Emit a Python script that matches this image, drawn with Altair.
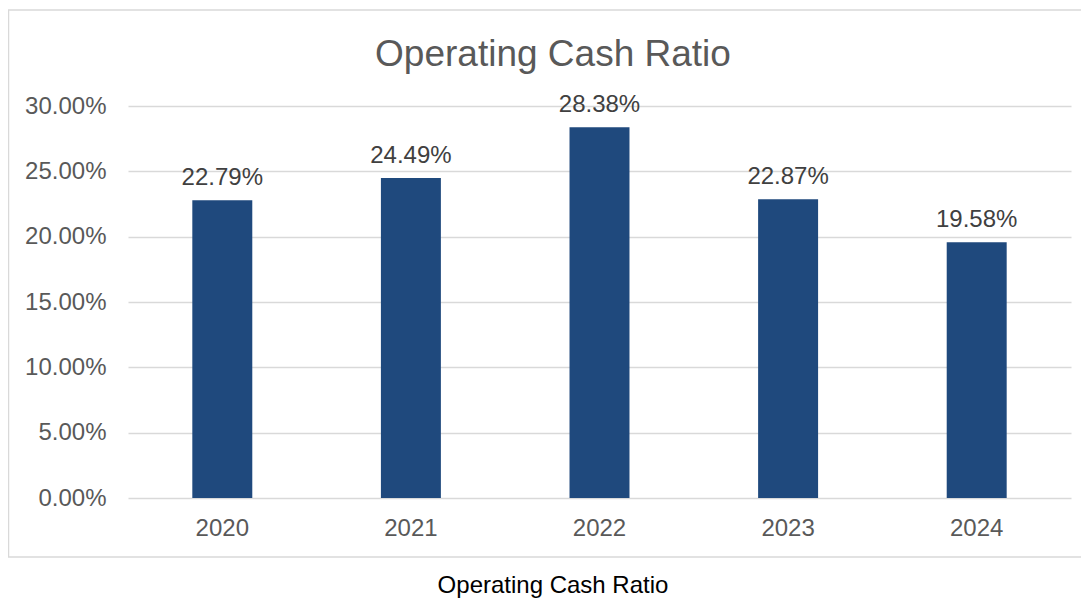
import altair as alt
import pandas as pd

years = ["2020", "2021", "2022", "2023", "2024"]
ratios = [0.2279, 0.2449, 0.2838, 0.2287, 0.1958]
title_text = "Operating Cash Ratio"
caption_text = "Operating Cash Ratio"

df = pd.DataFrame({"year": years, "ratio": ratios})

FONT = "Arial, Liberation Sans, sans-serif"
W, H = 943, 392

x_axis = alt.Axis(labelAngle=0, domain=False, ticks=False, labelPadding=18,
                  labelFontSize=24, labelColor="#595959", labelFont=FONT, grid=False)
x_enc = alt.X("year:N", sort=years, title=None,
              scale=alt.Scale(paddingInner=0.682, paddingOuter=0.341), axis=x_axis)
y_enc = alt.Y("ratio:Q", title=None,
              scale=alt.Scale(domain=[0, 0.30], nice=False),
              axis=alt.Axis(format=".2%", values=[0, 0.05, 0.10, 0.15, 0.20, 0.25, 0.30],
                            domain=False, ticks=False, labelPadding=22,
                            labelFontSize=24, labelColor="#595959", labelFont=FONT,
                            grid=True, gridColor="#d9d9d9", gridWidth=1.3))

base = alt.Chart(df)
bars = base.mark_bar(color="#1f497d").encode(x=x_enc, y=y_enc)
labels = base.mark_text(baseline="alphabetic", dy=-15, fontSize=24, color="#404040",
                        font=FONT).encode(
    x=alt.X("year:N", sort=years, title=None, axis=x_axis), y=alt.Y("ratio:Q", title=None),
    text=alt.Text("ratio:Q", format=".2%"))

frame_df = pd.DataFrame({"k": [0]})
border_color = "#d9d9d9"
top_line = alt.Chart(frame_df).mark_rule(color=border_color, strokeWidth=1.3).encode(
    x=alt.value(-120), x2=alt.value(1000), y=alt.value(-96))
bottom_line = alt.Chart(frame_df).mark_rule(color=border_color, strokeWidth=1.3).encode(
    x=alt.value(-120), x2=alt.value(1000), y=alt.value(451))
left_line = alt.Chart(frame_df).mark_rule(color=border_color, strokeWidth=1.3).encode(
    x=alt.value(-119.4), y=alt.value(-96), y2=alt.value(451))

title_mark = alt.Chart(frame_df).mark_text(fontSize=37, color="#595959", font=FONT,
                                           baseline="alphabetic", align="center").encode(
    x=alt.value(425), y=alt.value(-40), text=alt.value(title_text))
caption_mark = alt.Chart(frame_df).mark_text(fontSize=24, color="#000000", font=FONT,
                                             baseline="alphabetic", align="center").encode(
    x=alt.value(425), y=alt.value(487), text=alt.value(caption_text))

chart = alt.layer(top_line, bottom_line, left_line, bars, labels, title_mark, caption_mark).properties(
    width=W, height=H,
    background="white",
    autosize=alt.AutoSizeParams(type="none"),
    padding={"left": 120, "top": 98, "right": 10, "bottom": 100},
).configure_view(strokeWidth=0)

chart.save("out.html", embed_options={"renderer": "svg", "actions": False})
